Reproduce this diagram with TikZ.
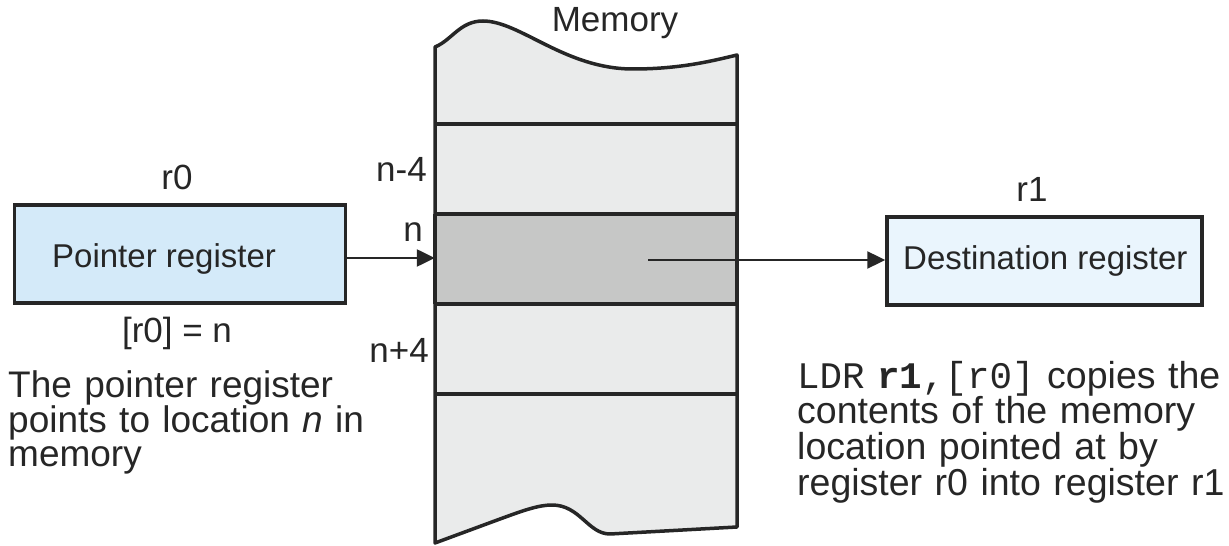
\documentclass[tikz,border=0pt]{standalone}
\usepackage{fontspec}
\setmainfont{Liberation Sans}
\setmonofont{Liberation Mono}
\usetikzlibrary{arrows.meta}
\definecolor{ink}{HTML}{262626}
\definecolor{memfill}{HTML}{EAEBEB}
\definecolor{cellgray}{HTML}{C6C7C6}
\definecolor{ptrfill}{HTML}{D4EAF9}
\definecolor{dstfill}{HTML}{EAF5FD}
\begin{document}
\begin{tikzpicture}[x=1bp,y=-1bp,
  lbl/.style={inner sep=0pt,text=ink,font=\fontsize{35bp}{40bp}\selectfont,anchor=base},
  boxtxt/.style={inner sep=0pt,text=ink,font=\fontsize{33bp}{40bp}\selectfont,anchor=base west},
  desc/.style={inner sep=0pt,text=ink,align=left,anchor=base west},
  regbox/.style={draw=ink,line width=3.5bp,inner sep=0pt},
  divider/.style={draw=ink,line width=3.5bp},
  arr/.style={draw=ink,line width=2.4bp,-{Triangle[length=18bp,width=17bp]}}]
\useasboundingbox (0,0) rectangle (1229,546);
% memory column
\filldraw[fill=memfill,draw=ink,line width=3.5bp,line join=round]
  (435,47) .. controls (452,40) and (460,21) .. (483,21)
  .. controls (520,21) and (565,69) .. (633,69)
  .. controls (680,69) and (712,61) .. (737,55)
  -- (737,527) -- (610,534)
  .. controls (588,534) and (580,505) .. (552,505)
  .. controls (538,505) and (522,511) .. (500,519)
  -- (435,543) -- cycle;
\node[fill=cellgray,inner sep=0pt,minimum width=302bp,minimum height=90bp] (ncell) at (586,259) {};
\draw[divider] (435,124) -- (737,124);
\draw[divider] (435,214) -- (737,214);
\draw[divider] (435,304) -- (737,304);
\draw[divider] (435,394) -- (737,394);
\draw[draw=ink,line width=3.5bp] (435,214) -- (435,304) (737,214) -- (737,304);
\node[lbl] (memt) at (615,32) {Memory};
\node[lbl,anchor=base east] (nm4) at (427,182) {n-4};
\node[lbl,anchor=base east] (nn) at (423,242) {n};
\node[lbl,anchor=base east] (np4) at (429,363) {n+4};
% registers
\node[regbox,fill=ptrfill,minimum width=331bp,minimum height=98bp] (ptr) at (180,254) {};
\node[boxtxt] (ptrt) at (52,268) {Pointer register};
\node[lbl] (r0) at (177,190) {r0};
\node[lbl] (r0n) at (177,343) {[r0] = n};
\node[regbox,fill=dstfill,minimum width=315bp,minimum height=88bp] (dst) at (1044.5,261) {};
\node[boxtxt] (dstt) at (903,270) {Destination register};
\node[lbl] (r1) at (1032,202) {r1};
% connectors
\coordinate (src) at (648,260);
\draw[arr] (ptr.east |- 0,258) -- (ncell.west |- 0,258);
\draw[arr] (src) -- (dst.west |- src);
% descriptions
\node[desc,text width=400bp,font=\fontsize{37bp}{34bp}\selectfont] (ldesc) at (8,397)
  {The pointer register\\points to location \textit{n} in\\memory};
\node[desc,text width=432bp,font=\fontsize{37.5bp}{34.3bp}\selectfont] (rdesc) at (797,388)
  {{\ttfamily LDR \textbf{r1},[r0]} copies the\\contents of the memory\\location pointed at by\\register r0 into register r1};
\end{tikzpicture}
\end{document}
